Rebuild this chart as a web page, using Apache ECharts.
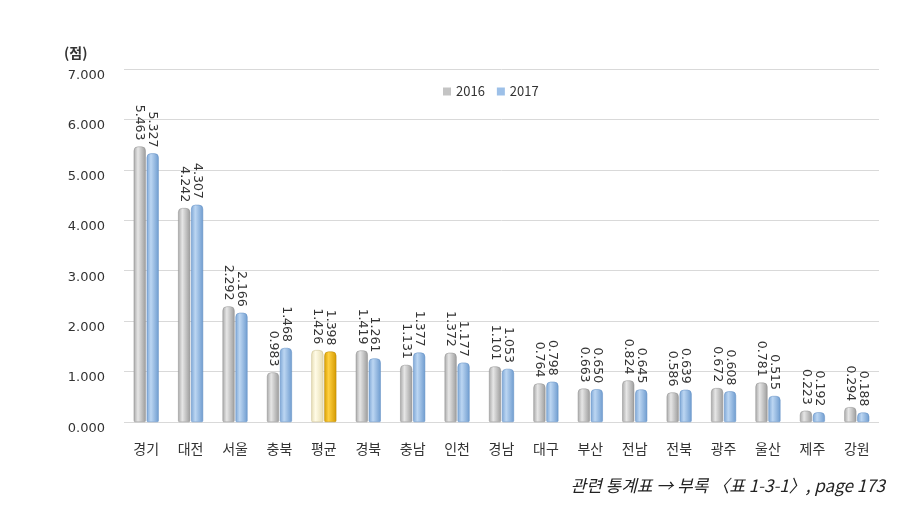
<!DOCTYPE html>
<html><head><meta charset="utf-8">
<script src="https://cdn.jsdelivr.net/npm/echarts@6/dist/echarts.min.js"></script>
<style>html,body{margin:0;padding:0;background:#fff}#c{width:921px;height:508px}</style>
</head><body><div id="c"></div>
<script>
const categories = ['경기','대전','서울','충북','평균','경북','충남','인천','경남','대구','부산','전남','전북','광주','울산','제주','강원'];
const values2016 = [5.463,4.242,2.292,0.983,1.426,1.419,1.131,1.372,1.101,0.764,0.663,0.824,0.586,0.672,0.781,0.223,0.294];
const values2017 = [5.327,4.307,2.166,1.468,1.398,1.261,1.377,1.177,1.053,0.798,0.650,0.645,0.639,0.608,0.515,0.192,0.188];
const seriesNames = ['2016','2017'];
const highlightCategory = '평균';
const yTicks = {min:0, max:7, interval:1};

const FONT = '"Noto Sans CJK KR", "Noto Sans", sans-serif';
function grad(a,b,c){return new echarts.graphic.LinearGradient(0,0,1,0,[{offset:0,color:a},{offset:0.35,color:b},{offset:1,color:c}]);}
const styles = {
  '2016': {color: grad('#a9a9a9','#e6e6e6','#9c9c9c'), borderColor:'#8f8f8f', legend:'#c4c4c4'},
  '2017': {color: grad('#7ea7d6','#bcd6f2','#6f9ccf'), borderColor:'#5f8cc2', legend:'#9dc0e8'}
};
const hiStyles = {
  '2016': {color: grad('#e8dfb8','#fffbe6','#e6dcb0'), borderColor:'#c8bd8a'},
  '2017': {color: grad('#d9a000','#ffd040','#d49a00'), borderColor:'#b98700'}
};
function mk(name, vals){
  return {
    name, type:'bar', barWidth:12, barGap:'8%',
    itemStyle:{color:styles[name].color, borderColor:styles[name].borderColor, borderWidth:0.5, borderRadius:[4,4,1,1]},
    label:{show:true, position:'top', rotate:-90, align:'right', verticalAlign:'middle', distance:6,
      fontSize:12.5, color:'#333', fontFamily:'"DejaVu Sans", sans-serif',
      formatter:p=>p.value.toFixed(3)},
    data: vals.map((v,i)=> categories[i]===highlightCategory
      ? {value:v, itemStyle:{color:hiStyles[name].color, borderColor:hiStyles[name].borderColor}}
      : {value:v})
  };
}
const chart = echarts.init(document.getElementById('c'));
chart.setOption({
  animation:false,
  grid:{left:124, right:42, top:69, bottom:86},
  legend:{data:seriesNames.map(n=>({name:n, itemStyle:{color:styles[n].legend, borderWidth:0}})), left:438, top:80, itemWidth:8, itemHeight:8, itemGap:12,
    icon:'rect', textStyle:{fontSize:13, color:'#333', fontFamily:FONT}},
  xAxis:{type:'category', data:categories, axisLine:{show:false}, axisTick:{show:false},
    axisLabel:{fontSize:14, color:'#333', margin:20, fontFamily:FONT}},
  yAxis:{type:'value', min:yTicks.min, max:yTicks.max, interval:yTicks.interval,
    axisLabel:{formatter:v=>v.toFixed(3), fontSize:13, color:'#333', margin:19, verticalAlign:'top', fontFamily:'"DejaVu Sans", sans-serif'},
    splitLine:{lineStyle:{color:'#d9d9d9'}}, axisLine:{show:false}, axisTick:{show:false}},
  series:[mk('2016',values2016), mk('2017',values2017)],
  graphic:[
    {type:'text', left:64, top:46, style:{text:'(점)', font:'bold 14px '+FONT, fill:'#333'}},
    {type:'text', right:36, top:477, style:{text:'관련 통계표 → 부록 〈표 1-3-1〉, page 173', font:'italic 17px '+FONT, fill:'#222'}}
  ]
});
</script></body></html>
